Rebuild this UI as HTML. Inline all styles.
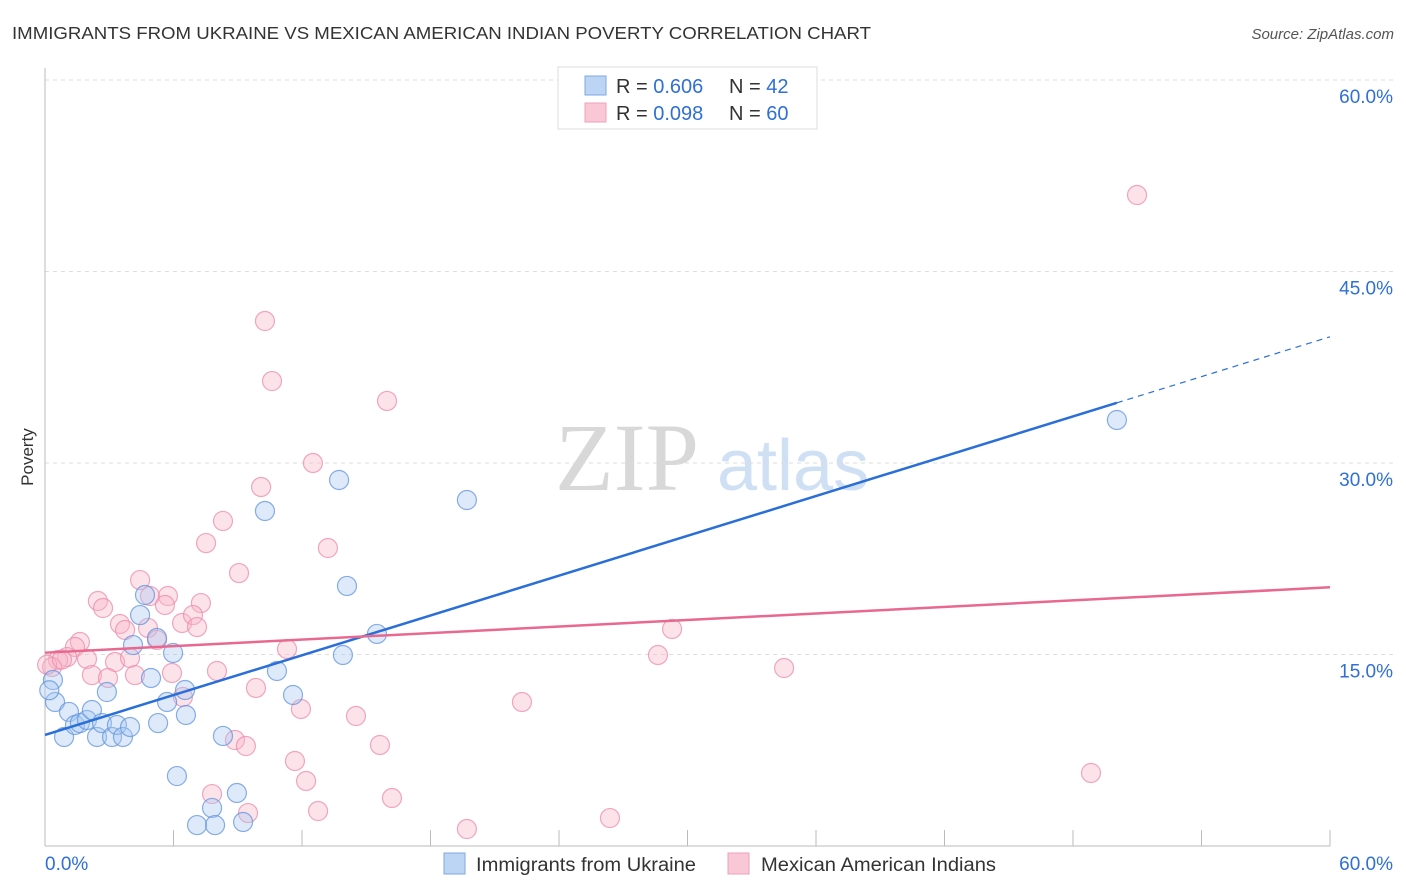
<!DOCTYPE html>
<html><head><meta charset="utf-8"><style>
body{margin:0;background:#fff;font-family:"Liberation Sans",sans-serif;}
svg{display:block}
</style></head><body>
<svg id="chart" width="1406" height="892">
<text x="12" y="39" font-size="17.5" fill="#333" textLength="859" lengthAdjust="spacingAndGlyphs">IMMIGRANTS FROM UKRAINE VS MEXICAN AMERICAN INDIAN POVERTY CORRELATION CHART</text>
<text x="1394" y="39" font-size="15" fill="#555" font-style="italic" text-anchor="end">Source: ZipAtlas.com</text>
<g>
<text x="555" y="490" font-family="Liberation Serif,serif" font-size="96" fill="#d8d8d8">ZIP</text>
<text x="717" y="490" font-size="72" fill="#cfe0f5">atlas</text>
</g>
<g id="grid"></g>
<g id="axes"></g>
<g id="marks"></g>
<text x="33" y="457" font-size="17" fill="#333" transform="rotate(-90 33 457)" text-anchor="middle">Poverty</text>
<g>
<rect x="558" y="67" width="259" height="62" fill="#fff" stroke="#ddd"/>
<rect x="585" y="76" width="21" height="19" fill="#bcd5f5" stroke="#7fa8e0"/>
<rect x="585" y="103" width="21" height="19" fill="#f9c7d6" stroke="#eea0b8"/>
<text x="616" y="93" font-size="20" fill="#333">R = <tspan fill="#2f6fd6">0.606</tspan><tspan x="729">N = </tspan><tspan fill="#2f6fd6">42</tspan></text>
<text x="616" y="120" font-size="20" fill="#333">R = <tspan fill="#2f6fd6">0.098</tspan><tspan x="729">N = </tspan><tspan fill="#2f6fd6">60</tspan></text>
</g>
<g>
<rect x="444" y="853" width="21" height="21" fill="#bcd5f5" stroke="#7fa8e0"/>
<text x="476" y="871" font-size="19" fill="#333" textLength="220" lengthAdjust="spacingAndGlyphs">Immigrants from Ukraine</text>
<rect x="728" y="853" width="21" height="21" fill="#f9c7d6" stroke="#eea0b8"/>
<text x="761" y="871" font-size="19" fill="#333" textLength="235" lengthAdjust="spacingAndGlyphs">Mexican American Indians</text>
</g>
</svg>
<script>
const yTicks=[15,30,45,60];
const yTickLabels=["15.0%","30.0%","45.0%","60.0%"];
const xTickLabels=["0.0%","60.0%"];
const ukraineX=[0.37,0.47,1.12,0.89,1.40,1.63,1.96,2.19,2.43,2.66,3.13,3.36,3.64,3.97,2.89,4.11,4.44,4.67,5.23,4.95,5.28,5.70,5.98,6.54,6.58,8.31,6.16,8.96,7.80,7.10,7.94,9.25,10.83,11.58,13.91,14.10,15.50,10.27,13.73,19.70,50.05,0.2];
const ukraineY=[13.0,11.28,10.5,8.54,9.48,9.63,9.87,10.65,8.54,9.63,8.54,9.48,8.54,9.32,12.06,15.74,18.09,19.66,16.29,13.16,9.63,11.28,15.12,12.22,10.26,8.62,5.48,4.15,2.98,1.64,1.64,1.88,13.71,11.83,14.96,20.37,16.61,26.24,28.67,27.10,33.37,12.2];
const mexX=[4.44,4.90,5.74,5.60,7.28,2.47,2.71,3.50,3.74,4.81,5.23,6.40,6.91,7.10,1.63,1.40,1.03,0.61,0.33,1.96,3.27,3.97,2.19,2.94,4.20,5.93,6.44,9.06,11.30,8.03,9.85,11.95,14.52,15.64,8.87,9.38,11.67,12.19,12.75,9.48,7.80,16.20,10.27,10.60,15.97,12.51,10.09,8.31,7.52,13.21,50.99,29.28,28.62,34.51,22.27,48.84,26.38,19.70,0.1,0.79];
const mexY=[20.83,19.58,19.58,18.88,19.03,19.19,18.64,17.39,16.92,17.08,16.14,17.47,18.09,17.15,15.98,15.59,14.80,14.57,14.02,14.65,14.41,14.73,13.39,13.16,13.39,13.55,11.67,21.38,15.43,13.71,12.38,10.73,10.18,7.91,8.30,7.83,6.66,5.09,2.74,2.58,4.07,3.76,41.12,36.42,34.86,30.00,28.12,25.46,23.73,23.34,50.99,17.00,14.96,13.94,11.28,5.72,2.19,1.33,14.2,14.6];

const NS="http://www.w3.org/2000/svg";
const X0=45,X1=1330,Y0=846,Y60=80;
const sx=v=>X0+(X1-X0)*v/60;
const sy=v=>Y0-(Y0-Y60)*v/60;
function mk(tag,attrs,parent){const e=document.createElementNS(NS,tag);for(const k in attrs)e.setAttribute(k,attrs[k]);parent.appendChild(e);return e;}
const grid=document.getElementById('grid'),axes=document.getElementById('axes'),marks=document.getElementById('marks');
yTicks.forEach((t,i)=>{
  const l=mk('line',{x1:X0,x2:1393,y1:sy(t),y2:sy(t),stroke:'#ddd','stroke-dasharray':'4,4'},grid);
  
  
  const tx=mk('text',{x:1393,y:sy(t)+23,'font-size':19,fill:'#2f6fd6','text-anchor':'end'},axes);
  tx.textContent=yTickLabels[i];
  
  
});
let a=mk('line',{x1:X0,x2:X0,y1:68,y2:Y0,stroke:'#bbb'},axes);


a=mk('line',{x1:X0,x2:X1,y1:Y0,y2:Y0,stroke:'#bbb'},axes);


for(let i=0;i<=10;i++){const x=X0+(X1-X0)*i/10;const t=mk('line',{x1:x,x2:x,y1:830,y2:Y0,stroke:'#bbb'},axes);
  
  }
let t=mk('text',{x:45,y:870,'font-size':19,fill:'#2f6fd6'},axes);t.textContent=xTickLabels[0];


t=mk('text',{x:1393,y:870,'font-size':19,fill:'#2f6fd6','text-anchor':'end'},axes);t.textContent=xTickLabels[1];



function fit(xs,ys){const n=xs.length;let mx=0,my=0;for(let i=0;i<n;i++){mx+=xs[i];my+=ys[i];}mx/=n;my/=n;let sxy=0,sxx=0;for(let i=0;i<n;i++){sxy+=(xs[i]-mx)*(ys[i]-my);sxx+=(xs[i]-mx)**2;}const b=sxy/sxx;return [my-b*mx,b];}
function pts(xs,ys,fill,stroke,name){xs.forEach((v,i)=>{const c=mk('circle',{cx:sx(v),cy:sy(ys[i]),r:9.5,fill:fill,'fill-opacity':0.38,stroke:stroke,'stroke-opacity':0.75,'stroke-width':1.2},marks);
  
  });}
pts(mexX,mexY,'#f7b5c9','#ec8aab','mexican-point');
pts(ukraineX,ukraineY,'#a9c9f2','#5f93de','ukraine-point');
const [ba,bb]=fit(ukraineX,ukraineY);
const xmaxU=Math.max(...ukraineX);
let ln=mk('line',{x1:sx(0),y1:sy(ba),x2:sx(xmaxU),y2:sy(ba+bb*xmaxU),stroke:'#2a6fd8','stroke-width':2.5},marks);


ln=mk('line',{x1:sx(xmaxU),y1:sy(ba+bb*xmaxU),x2:sx(60),y2:sy(ba+bb*60),stroke:'#2a6fd8','stroke-width':1.2,'stroke-dasharray':'6,5'},marks);


const [ma,mb]=fit(mexX,mexY);
ln=mk('line',{x1:sx(0),y1:sy(ma),x2:sx(60),y2:sy(ma+mb*60),stroke:'#e8688f','stroke-width':2.5},marks);


</script>
</body></html>
